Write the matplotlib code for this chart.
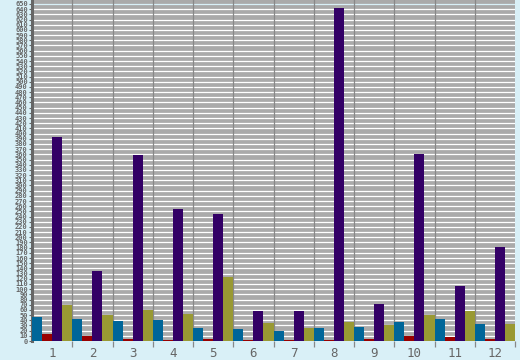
import numpy as np
import matplotlib
matplotlib.use('Agg')
import matplotlib.pyplot as plt

groups = [1, 2, 3, 4, 5, 6, 7, 8, 9, 10, 11, 12]
blue = [4.7, 4.3, 3.9, 4.1, 2.6, 2.4, 2.0, 2.6, 2.7, 3.7, 4.2, 3.3]
red = [1.4, 1.0, 0.4, 0.2, 0.4, 0.2, 0.2, 0.2, 0.4, 1.0, 0.8, 0.4]
purple = [39.3, 13.5, 35.9, 25.5, 24.5, 5.8, 5.8, 64.2, 7.1, 36.1, 10.6, 18.1]
olive = [7.0, 5.1, 6.0, 5.3, 12.3, 3.5, 2.6, 3.7, 3.1, 5.0, 5.8, 3.3]
grid_steps = np.arange(0, 66)

series = [(blue, '#006699'), (red, '#990000'), (purple, '#330066'), (olive, '#999933')]

bg = '#d9f0f7'
fig = plt.figure(figsize=(5.2, 3.6), dpi=100, facecolor=bg)
ax = fig.add_axes([32 / 520, 19 / 360, 483 / 520, 341 / 360])
ax.set_facecolor('#aaaaaa')

x = np.array(groups, dtype=float)
w = 0.25
for k, (vals, col) in enumerate(series):
    ax.bar(x - 0.5 + w / 2 + k * w, vals, width=w, color=col, linewidth=0, zorder=3)

ax.set_xlim(0.5, 12.5)
ax.set_ylim(0, 341 / 5.185)

# horizontal grid
for g in grid_steps[1:-1]:
    ax.axhline(g, color='white', lw=0.9, zorder=1)
ax.axhline(grid_steps[-1], color=bg, lw=0.9, zorder=1)
# vertical grid at group boundaries
for b in np.arange(1.5, 12.5, 1.0):
    ax.axvline(b, color='#888888', lw=0.9, zorder=2)

ax.set_xticks(x)
ax.set_xticklabels([str(g) for g in groups], family='DejaVu Sans Mono', fontsize=9, color='#666666')
ax.set_xticks(np.arange(1.5, 13.0, 1.0), minor=True)
ax.tick_params(axis='x', which='major', length=0, pad=4)
ax.tick_params(axis='x', which='minor', length=4, width=0.9, color='#888888')

ax.set_yticks(grid_steps)
ax.set_yticklabels([str(g * 10) for g in grid_steps], family='DejaVu Sans Mono', fontsize=5,
                   fontweight='bold', color='#666666')
ax.tick_params(axis='y', length=2, width=0.8, color='#666666', pad=1)

for s in ['top', 'right', 'bottom']:
    ax.spines[s].set_visible(False)
ax.spines['left'].set_color('#666666')
ax.spines['left'].set_linewidth(2.2)

fig.savefig('out.png', dpi=100, facecolor=bg)
